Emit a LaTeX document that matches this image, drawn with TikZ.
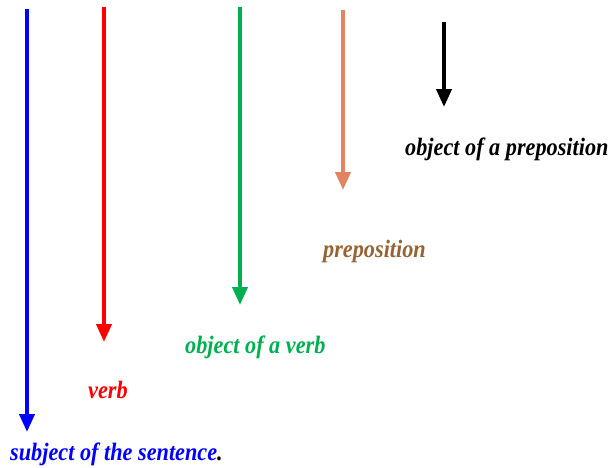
\documentclass[tikz,border=0pt]{standalone}
\usepackage{fontspec}
\setmainfont{Liberation Serif}
\newfontfamily\lblfont[FakeStretch=0.89]{Liberation Serif}
\usetikzlibrary{arrows.meta}
\definecolor{cblue}{RGB}{0,0,255}
\definecolor{cred}{RGB}{255,0,0}
\definecolor{cgreen}{RGB}{0,176,80}
\definecolor{corange}{RGB}{226,132,98}
\definecolor{cbrown}{RGB}{150,100,50}
\tikzset{
  arr/.style={line width=4pt,-{Triangle[width=15pt,length=18pt]}},
  lbl/.style={anchor=base west,inner sep=0pt,font=\lblfont\fontsize{25}{28}\selectfont\bfseries\itshape}
}
\begin{document}
\begin{tikzpicture}[x=1pt,y=-1pt]
\useasboundingbox (0,0) rectangle (614,467);
\coordinate (sb) at (27,9);
\coordinate (se) at (27,432);
\coordinate (vb) at (104,7);
\coordinate (ve) at (104,342);
\coordinate (ob) at (240,7);
\coordinate (oe) at (240,305);
\coordinate (pb) at (343,10);
\coordinate (pe) at (343,190);
\coordinate (qb) at (444,22);
\coordinate (qe) at (444,107);
\draw[arr,cblue] (sb) -- (se);
\draw[arr,cred] (vb) -- (ve);
\draw[arr,cgreen] (ob) -- (oe);
\draw[arr,corange] (pb) -- (pe);
\draw[arr,black] (qb) -- (qe);
\node[lbl,text=cblue] (subj) at (10,460) {subject of the sentence\textcolor{black}{.}};
\node[lbl,text=cred] (verb) at (88,398) {verb};
\node[lbl,text=cgreen] (objv) at (185,353) {object of a verb};
\node[lbl,text=cbrown] (prep) at (323,257) {preposition};
\node[lbl,text=black] (objp) at (405,155) {object of a preposition};
\end{tikzpicture}
\end{document}
